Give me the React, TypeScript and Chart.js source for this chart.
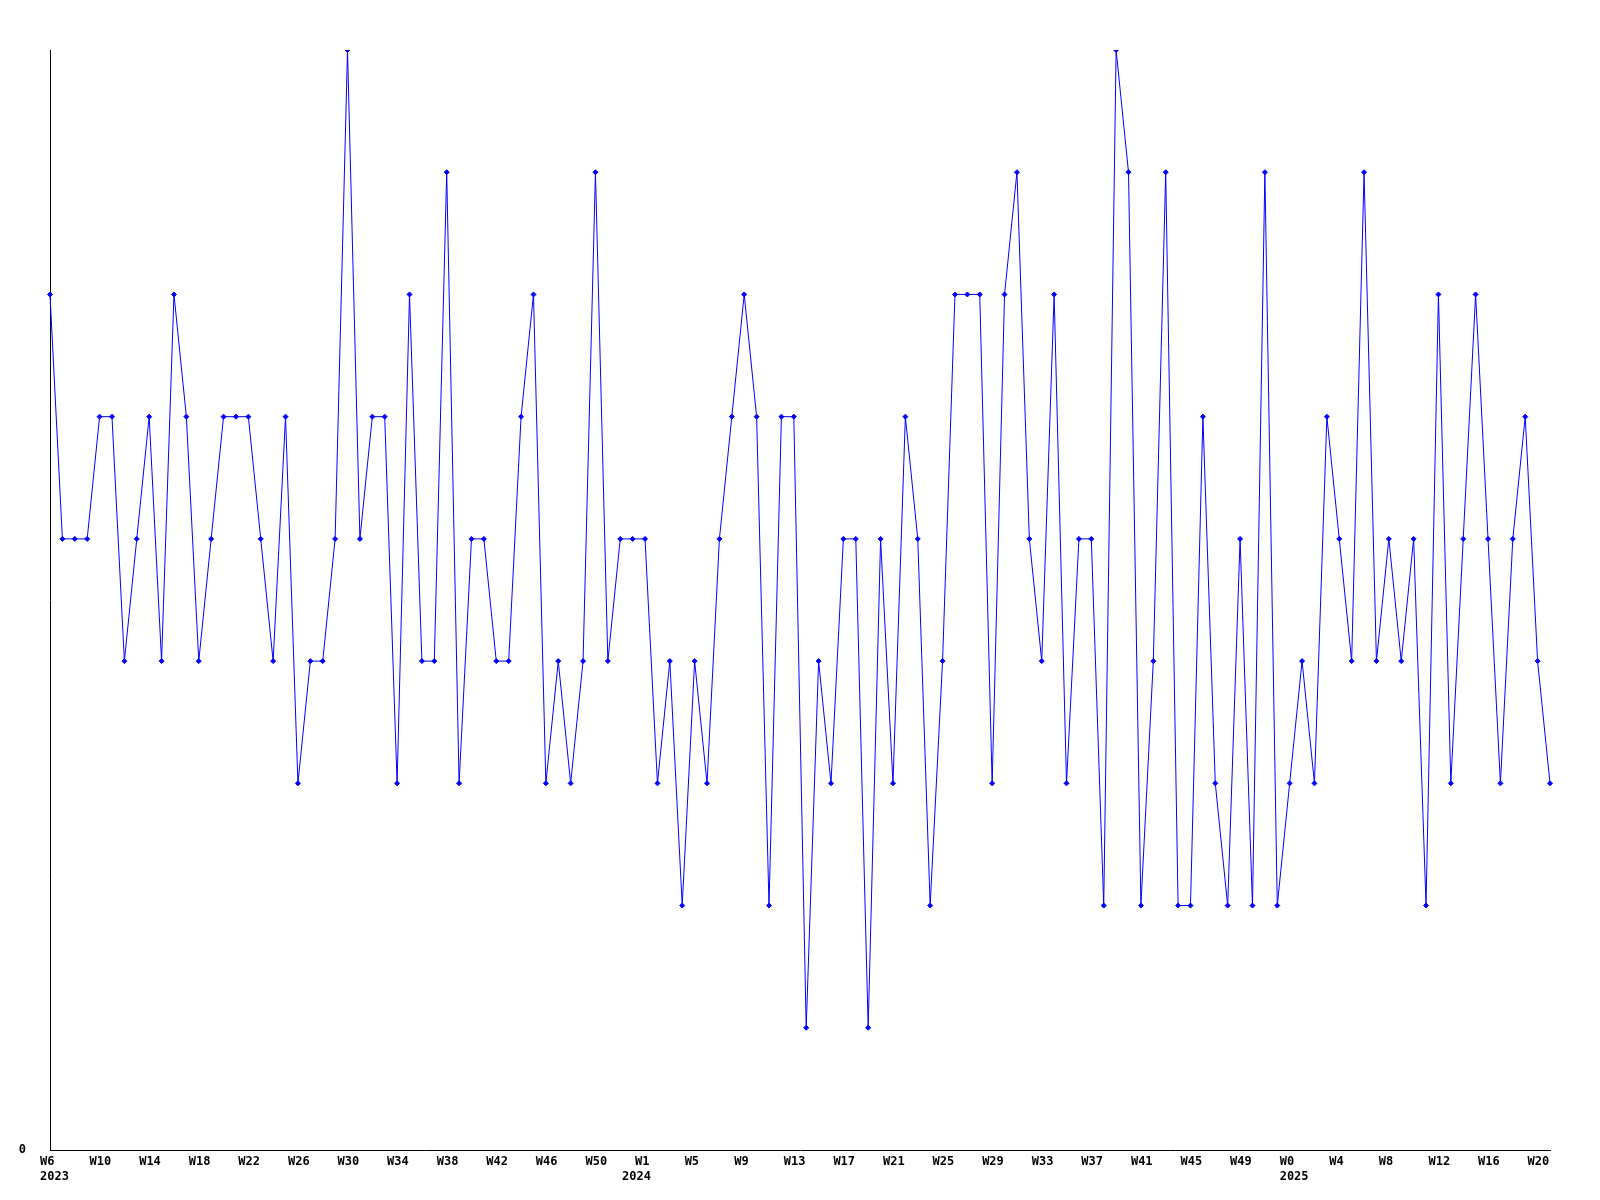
import React, { useEffect, useRef } from 'react';
import { Chart, registerables } from 'chart.js';

Chart.register(...registerables);

// one value per week, from 2023 W6 to 2025 W21
const values = [
  7, 5, 5, 5, 6, 6, 4, 5, 6, 4,
  7, 6, 4, 5, 6, 6, 6, 5, 4, 6,
  3, 4, 4, 5, 9, 5, 6, 6, 3, 7,
  4, 4, 8, 3, 5, 5, 4, 4, 6, 7,
  3, 4, 3, 4, 8, 4, 5, 5, 5, 3,
  4, 2, 4, 3, 5, 6, 7, 6, 2, 6,
  6, 1, 4, 3, 5, 5, 1, 5, 3, 6,
  5, 2, 4, 7, 7, 7, 3, 7, 8, 5,
  4, 7, 3, 5, 5, 2, 9, 8, 2, 4,
  8, 2, 2, 6, 3, 2, 5, 2, 8, 2,
  3, 4, 3, 6, 5, 4, 8, 4, 5, 4,
  5, 2, 7, 3, 5, 7, 5, 3, 5, 6,
  4, 3,
];

// a tick label every 4th week
const weekTicks = [
  'W6', 'W10', 'W14', 'W18', 'W22', 'W26', 'W30', 'W34', 'W38', 'W42', 'W46', 'W50',
  'W1', 'W5', 'W9', 'W13', 'W17', 'W21', 'W25', 'W29', 'W33', 'W37', 'W41', 'W45', 'W49',
  'W0', 'W4', 'W8', 'W12', 'W16', 'W20',
];
const yearLabels = ['2023', '2024', '2025'];
const yearTickIndex = [0, 12, 25];
const tickEvery = 4;

const categories = values.map((_, i) => String(i));

const FONT_FAMILY = '"DejaVu Sans Mono", monospace';
const FONT = { family: FONT_FAMILY, size: 12, weight: 'bold' as const, lineHeight: 1.25 };

const yearPlugin = {
  id: 'yearLabels',
  afterDraw(chart: any) {
    const xs = chart.scales.x;
    const ctx = chart.ctx;
    ctx.save();
    ctx.font = `bold 12px ${FONT_FAMILY}`;
    ctx.fillStyle = '#000000';
    ctx.textAlign = 'left';
    ctx.textBaseline = 'middle';
    const y = xs.top + 4 + 15 + 7.5;
    yearLabels.forEach((label, j) => {
      const idx = yearTickIndex[j] * tickEvery;
      const x = xs.getPixelForValue(idx) + (j === 1 ? -23 : -10);
      ctx.fillText(label, x, y);
    });
    ctx.restore();
  },
};

export default function App() {
  const ref = useRef<HTMLCanvasElement | null>(null);

  useEffect(() => {
    document.body.style.margin = '0';
    const canvas = ref.current;
    if (!canvas) return;
    const chart = new Chart(canvas, {
      type: 'line',
      data: {
        labels: categories,
        datasets: [
          {
            data: values,
            borderColor: '#0000ff',
            backgroundColor: '#0000ff',
            borderWidth: 1,
            tension: 0,
            fill: false,
            pointStyle: 'rectRot',
            pointRadius: 2.5,
            pointBorderWidth: 1,
            pointBackgroundColor: '#0000ff',
            pointBorderColor: '#0000ff',
          },
        ],
      },
      options: {
        responsive: false,
        animation: false,
        devicePixelRatio: 1,
        layout: { padding: { top: 50, right: 50, left: 0, bottom: 0 } },
        plugins: { legend: { display: false }, tooltip: { enabled: false }, title: { display: false } },
        scales: {
          x: {
            type: 'category',
            offset: false,
            grid: { display: false, drawTicks: false },
            border: { display: true, color: '#000000', width: 1 },
            ticks: {
              autoSkip: false,
              maxRotation: 0,
              minRotation: 0,
              align: 'start',
              labelOffset: -10,
              padding: 4,
              color: '#000000',
              font: FONT,
              callback: (_v: any, index: number) => {
                if (index % tickEvery !== 0) return null;
                const w = weekTicks[index / tickEvery];
                return w === undefined ? null : w;
              },
            },
            afterFit: (scale: any) => {
              scale.height = 50;
            },
          },
          y: {
            type: 'linear',
            min: 0,
            max: 9,
            grid: { display: false, drawTicks: false },
            border: { display: true, color: '#000000', width: 1 },
            ticks: {
              stepSize: 9,
              padding: 24,
              color: '#000000',
              font: FONT,
              callback: (v: any) => (v === 0 ? '0' : null),
            },
            afterFit: (scale: any) => {
              scale.width = 50;
            },
          },
        },
      },
      plugins: [yearPlugin],
    });
    return () => chart.destroy();
  }, []);

  return (
    <div style={{ width: 1600, height: 1200, position: 'relative', background: '#ffffff' }}>
      <canvas ref={ref} width={1600} height={1200} style={{ display: 'block' }} />
    </div>
  );
}
